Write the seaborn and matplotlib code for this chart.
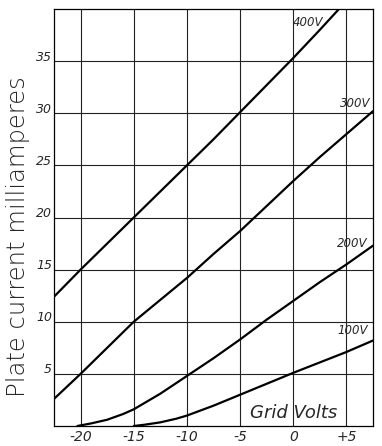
import numpy as np
import pandas as pd
import matplotlib
matplotlib.use("Agg")
import matplotlib.pyplot as plt
import matplotlib.transforms as mtransforms
import seaborn as sns

# plate current (mA) vs grid volts
grid_400 = [-22.5, -20, -17.5, -15, -12.5, -10, -7.5, -5, -2.5, 0, 2.5, 4.3]
ma_400 = [12.4, 15.0, 17.5, 20.0, 22.5, 25.0, 27.5, 30.1, 32.7, 35.3, 38.0, 40.0]

grid_300 = [-22.5, -20, -17.5, -15, -12.5, -10, -7.5, -5, -2.5, 0, 2.5, 5, 7.5]
ma_300 = [2.6, 5.0, 7.5, 10.0, 12.1, 14.2, 16.5, 18.7, 21.1, 23.5, 25.8, 28.0, 30.2]

grid_200 = [-20.3, -19, -17.5, -16, -15, -12.5, -10, -7.5, -5, -2.5, 0, 2.5, 5, 7.5]
ma_200 = [0.0, 0.25, 0.6, 1.15, 1.6, 3.1, 4.8, 6.5, 8.3, 10.2, 12.0, 13.8, 15.5, 17.3]

grid_100 = [-15, -14, -12.5, -11, -10, -7.5, -5, -2.5, 0, 2.5, 5, 7.5]
ma_100 = [0.0, 0.12, 0.35, 0.7, 1.0, 1.95, 3.0, 4.05, 5.1, 6.1, 7.1, 8.2]

curve_names = ["400V", "300V", "200V", "100V"]
x_ticks = [-20, -15, -10, -5, 0, 5]
x_labels = ["-20", "-15", "-10", "-5", "0", "+5"]
y_ticks = [5, 10, 15, 20, 25, 30, 35]

df = pd.concat([
    pd.DataFrame({"grid": g, "ma": m, "curve": n})
    for g, m, n in zip([grid_400, grid_300, grid_200, grid_100],
                       [ma_400, ma_300, ma_200, ma_100], curve_names)
])

sns.set_style("white")
plt.rcParams["font.family"] = ["DejaVu Sans"]

fig = plt.figure(figsize=(3.82, 4.46), dpi=100)
ax = fig.add_axes([54 / 382, 20 / 446, 319 / 382, 417 / 446])

sns.lineplot(data=df, x="grid", y="ma", hue="curve", palette=["black"] * 4,
             legend=False, linewidth=1.6, sort=False, estimator=None, ax=ax)

ax.set_xlim(-22.5, 7.5)
ax.set_ylim(0, 40)
ax.set_xticks(x_ticks)
ax.set_xticklabels(x_labels, fontsize=10, style="italic")
ax.set_yticks(y_ticks)
ax.set_yticklabels([str(v) for v in y_ticks], fontsize=9, style="italic")
ax.tick_params(axis="x", length=0, pad=3)
ax.tick_params(axis="y", length=0, pad=1.5)
ax.grid(True, color="#222222", linewidth=0.8)
for s in ax.spines.values():
    s.set_color("black")
    s.set_linewidth(0.9)

# y labels sit just above their gridlines
shift = mtransforms.ScaledTranslation(0, 4 / 72, fig.dpi_scale_trans)
for lab in ax.get_yticklabels():
    lab.set_transform(lab.get_transform() + shift)

ax.set_xlabel("")
ax.set_ylabel("Plate current milliamperes", fontsize=17.5, fontweight="light")
ax.yaxis.set_label_coords(-0.075, 0.455)

ax.text(1.4, 38.7, "400V", fontsize=8.5, style="italic", ha="center", va="center")
ax.text(7.3, 30.9, "300V", fontsize=8.5, style="italic", ha="right", va="center")
ax.text(7.0, 17.5, "200V", fontsize=8.5, style="italic", ha="right", va="center")
ax.text(7.0, 9.2, "100V", fontsize=8.5, style="italic", ha="right", va="center")
ax.text(0.0, 1.2, "Grid Volts", fontsize=13, style="italic", ha="center",
        va="center", fontweight="light")

fig.savefig("out.png", dpi=100)
